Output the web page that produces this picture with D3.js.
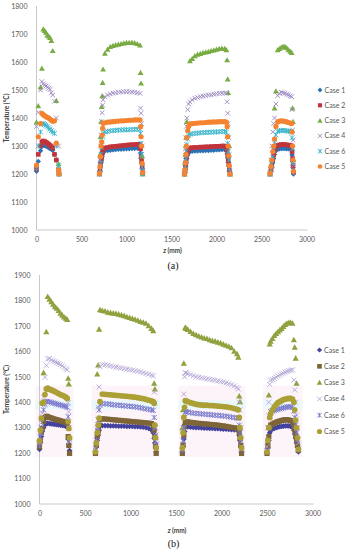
<!DOCTYPE html>
<html><head><meta charset="utf-8">
<script src="https://cdn.jsdelivr.net/npm/d3@7"></script>
<style>body{margin:0;background:#fff}svg{display:block}</style>
</head><body>
<svg id="c" width="348" height="550"></svg>
<script>
// ---------- shared labels ----------
const cases = ["Case 1","Case 2","Case 3","Case 4","Case 6","Case 5"];
const xTicks = [0,500,1000,1500,2000,2500,3000];
const yTicksA = [1000,1100,1200,1300,1400,1500,1600,1700,1800];
const yTicksB = [1000,1100,1200,1300,1400,1500,1600,1700,1800,1900];

// ---------- chart (a): z positions per heated segment ----------
const zA = [
  [0,20,45,60,75,90,105,120,135,150,165,180,200,220,245,250],
  [700,706,712,718,724,730,735,740,760,790,820,850,880,910,940,970,1000,1030,1060,1090,1120,1150,1156,1162,1168,1174,1180],
  [1645,1650,1655,1660,1665,1670,1680,1690,1705,1730,1760,1790,1820,1850,1880,1910,1940,1970,2000,2030,2060,2090,2110,2118,2124,2130,2136,2142,2150],
  [2595,2605,2615,2625,2635,2645,2660,2680,2700,2720,2740,2760,2780,2800,2820,2835,2840,2845,2850,2855]
];
const aCase1 = [
  [1210,1245,1283,1298,1304,1302,1300,1297,1294,1291,1288,1285,1270,1250,1210,1200],
  [1200,1210,1225,1240,1250,1262,1272,1280,1282,1284,1285,1286,1287,1288,1288,1289,1290,1290,1291,1291,1292,1292,1275,1255,1240,1220,1200],
  [1200,1205,1215,1228,1240,1255,1268,1276,1280,1281,1282,1282,1283,1283,1284,1284,1285,1285,1286,1286,1287,1287,1285,1272,1258,1242,1228,1210,1200],
  [1200,1210,1222,1240,1255,1270,1283,1288,1290,1291,1291,1291,1290,1290,1289,1287,1268,1245,1222,1200]
];
const aCase2 = [
  [1218,1270,1300,1315,1318,1316,1313,1310,1306,1302,1298,1293,1270,1250,1215,1200],
  [1200,1215,1235,1250,1262,1274,1285,1290,1293,1295,1297,1298,1299,1300,1301,1302,1303,1304,1305,1305,1306,1306,1290,1262,1245,1226,1205],
  [1200,1210,1225,1240,1255,1270,1282,1290,1293,1294,1295,1295,1296,1296,1297,1297,1298,1298,1299,1299,1300,1300,1298,1285,1268,1250,1235,1215,1200],
  [1200,1215,1230,1250,1268,1285,1298,1302,1304,1305,1305,1305,1304,1303,1302,1300,1280,1255,1230,1205]
];
const aCase3 = [
  [1385,1443,1510,1577,1717,1712,1706,1696,1692,1687,1676,1640,null,1462,1236,1200],
  [1202,1270,1333,1387,1440,1479,1526,1574,1631,1645,1655,1658,1661,1663,1665,1667,1669,1669,1670,1668,1665,1660,1562,1524,null,1264,1200],
  [1200,1240,1270,1300,1331,1387,null,null,1604,1612,1622,1627,1630,1633,1635,1637,1640,1642,1645,1648,1649,1648,1643,1607,1539,1490,null,1300,1200],
  [1200,1230,null,null,null,1435,1496,1643,1648,1652,1655,1655,1650,1643,1638,1633,null,1435,1387,1250]
];
const aCase4 = [
  [1370,1420,1500,1530,1522,1518,1514,1510,1506,1502,1490,1482,1460,1400,1300,1210],
  [1205,1250,1300,1340,1387,1419,1446,1465,1476,1482,1486,1489,1490,1492,1493,1494,1494,1494,1493,1492,1490,1488,1435,1417,1380,1300,1210],
  [1205,1250,1290,1330,1370,1400,1430,1450,1458,1465,1470,1473,1476,1478,1480,1482,1483,1485,1487,1488,1489,1489,1488,1458,1417,1380,1330,1270,1210],
  [1205,1250,1300,1350,1380,1400,1450,1480,1488,1492,1490,1488,1485,1482,1479,1476,1430,1357,1321,1230]
];
const aCase6 = [
  [1220,1300,1350,1378,1380,1377,1374,1370,1365,1360,1355,1350,1345,1300,1230,1205],
  [1200,1215,1240,1270,1295,1315,1335,1345,1350,1352,1354,1355,1356,1357,1357,1358,1358,1358,1359,1359,1360,1360,1345,1310,1270,1225,1200],
  [1200,1212,1230,1255,1280,1305,1325,1338,1342,1344,1345,1346,1347,1348,1348,1349,1349,1350,1350,1351,1352,1352,1350,1335,1310,1280,1250,1220,1200],
  [1200,1215,1235,1260,1285,1310,1340,1352,1355,1356,1356,1355,1354,1353,1352,1350,1330,1290,1240,1205]
];
const aCase5 = [
  [1232,1333,1380,1417,1412,1408,1405,1402,1400,1396,1392,1388,1390,1310,1214,1202],
  [1202,1226,1262,1300,1315,1339,1363,1381,1383,1385,1386,1387,1388,1389,1390,1390,1391,1392,1392,1393,1393,1393,1369,1333,1300,1238,1205],
  [1200,1215,1240,1270,1300,1330,1355,1370,1379,1380,1381,1382,1383,1383,1384,1385,1385,1386,1386,1387,1387,1387,1385,1369,1333,1300,1265,1230,1200],
  [1203,1226,1250,1280,1300,1325,1370,1386,1389,1390,1389,1388,1386,1384,1382,1380,1350,1300,1250,1210]
];

// ---------- chart (b) ----------
const zB = [
  [0,10,20,30,45,60,75,90,110,130,150,170,190,210,230,250,270,290,305,315,322,330],
  [615,625,635,645,655,665,690,720,750,780,810,840,870,900,930,960,990,1020,1050,1080,1110,1140,1170,1200,1230,1250,1260,1268,1275,1282],
  [1570,1578,1586,1594,1602,1610,1630,1660,1690,1720,1750,1780,1810,1840,1870,1900,1930,1960,1990,2020,2050,2080,2110,2140,2170,2185,2195,2203,2211,2220],
  [2500,2510,2520,2530,2540,2560,2580,2600,2620,2640,2660,2680,2700,2720,2740,2760,2780,2795,2805,2815,2825,2835,2845]
];
const bCase1 = [
  [1215,1241,1265,1285,1300,1312,1316,1317,1316,1315,1314,1313,1312,1311,1310,1309,1308,1306,1300,1255,1235,1210],
  [1205,1225,1250,1270,1290,1305,1308,1308,1308,1307,1307,1307,1306,1306,1306,1305,1305,1305,1304,1304,1303,1302,1300,1297,1291,1280,1258,1240,1220,1205],
  [1205,1225,1255,1285,1304,1304,1303,1302,1301,1300,1300,1299,1298,1298,1297,1297,1296,1296,1295,1294,1294,1293,1292,1291,1291,1288,1270,1250,1225,1205],
  [1200,1220,1250,1280,1291,1294,1297,1300,1302,1304,1305,1306,1307,1307,1307,1305,1302,1290,1275,1258,1240,1225,1205]
];
const bCase2 = [
  [1225,1250,1280,1297,1325,1340,1345,1343,1340,1338,1335,1333,1331,1329,1327,1325,1323,1320,1318,1265,1230,1199],
  [1199,1230,1265,1284,1310,1333,1335,1334,1333,1332,1331,1330,1329,1328,1327,1326,1325,1324,1323,1322,1321,1320,1319,1318,1316,1310,1290,1265,1230,1199],
  [1199,1232,1270,1305,1324,1324,1323,1321,1320,1318,1317,1316,1315,1314,1313,1312,1311,1310,1308,1307,1305,1303,1301,1299,1298,1297,1280,1258,1230,1199],
  [1199,1230,1265,1300,1310,1314,1318,1321,1324,1326,1328,1330,1331,1331,1330,1328,1324,1310,1290,1270,1252,1230,1211]
];
const bCase3 = [
  [null,null,null,null,1516,null,1677,1815,1805,1795,1785,1775,1769,1760,1750,1742,1735,1730,1725,1494,1472,null],
  [null,null,1511,1546,1687,1763,1760,1758,1754,1752,1750,1749,1746,1743,1740,1736,1733,1729,1726,1722,1717,1714,1710,1700,1690,1681,1474,1452,null,null],
  [1300,1370,1553,null,1694,1690,1686,1678,1670,1665,1660,1656,1652,1650,1645,1642,1640,1636,1633,1628,1624,1620,1614,1600,1590,1577,1424,1402,null,null],
  [null,null,1428,1629,1640,1650,1662,1670,1677,1684,1690,1698,1705,1710,1713,1713,1710,1645,1616,1573,1474,null,null]
];
const bCase4 = [
  [1240,1278,1320,1357,1420,1498,1545,1570,1572,1566,1562,1559,1555,1552,1548,1543,1537,1531,1527,1398,1363,1245],
  [1220,1241,1300,1380,1460,1540,1548,1547,1545,1543,1540,1538,1536,1534,1532,1530,1528,1526,1524,1522,1519,1516,1513,1510,1507,1503,1440,1396,1300,1245],
  [1225,1300,1432,1500,1516,1515,1512,1508,1504,1500,1498,1496,1494,1492,1490,1488,1486,1484,1481,1479,1476,1473,1469,1464,1458,1452,1400,1370,1300,1225],
  [1225,1300,1400,1470,1487,1490,1494,1498,1503,1507,1511,1514,1518,1521,1524,1526,1527,1487,1448,1400,1350,1300,1240]
];
const bCase6 = [
  [1230,1265,1300,1335,1370,1392,1402,1403,1401,1399,1397,1395,1393,1391,1389,1387,1385,1383,1380,1343,1300,1255],
  [1210,1250,1290,1330,1370,1390,1395,1394,1393,1392,1390,1389,1388,1387,1386,1385,1384,1383,1382,1380,1378,1376,1374,1372,1370,1368,1340,1300,1270,1235],
  [1210,1250,1300,1340,1363,1362,1361,1359,1357,1356,1355,1354,1353,1352,1351,1350,1349,1348,1347,1346,1345,1343,1341,1340,1338,1337,1310,1280,1250,1215],
  [1210,1250,1300,1345,1363,1365,1368,1370,1372,1374,1376,1378,1380,1381,1382,1382,1380,1365,1340,1310,1280,1250,1215]
];
const bCase5 = [
  [1248,1290,1337,1396,1400,1430,1452,1455,1451,1448,1445,1442,1438,1434,1430,1427,1424,1420,1415,1324,1297,1260],
  [1205,1240,1280,1310,1337,1402,1432,1431,1430,1429,1428,1427,1426,1425,1424,1423,1422,1421,1420,1418,1416,1414,1411,1408,1405,1402,1396,1310,1260,1220],
  [1220,1280,1340,1380,1406,1405,1402,1398,1395,1392,1390,1389,1388,1388,1387,1387,1386,1385,1384,1383,1382,1380,1378,1375,1372,1370,1340,1300,1260,1220],
  [1205,1250,1300,1340,1355,1370,1382,1390,1398,1402,1406,1410,1412,1414,1415,1415,1412,1400,1370,1330,1300,1260,1215]
];

// ---------- drawing ----------
const svg = d3.select("#c");
const FONT = "Lato, 'Open Sans', sans-serif";
const shapes = ["diamond","square","triangle","x","star","circle"];

function markerPath(shape, r){
  const p = d3.path();
  if(shape==="diamond"){p.moveTo(0,-r);p.lineTo(r,0);p.lineTo(0,r);p.lineTo(-r,0);p.closePath();}
  else if(shape==="square"){p.rect(-r,-r,2*r,2*r);}
  else if(shape==="triangle"){p.moveTo(0,-r);p.lineTo(r*1.0,r*0.8);p.lineTo(-r*1.0,r*0.8);p.closePath();}
  else if(shape==="circle"){p.arc(0,0,r,0,2*Math.PI);}
  else if(shape==="x"){p.moveTo(-r,-r);p.lineTo(r,r);p.moveTo(-r,r);p.lineTo(r,-r);}
  else if(shape==="star"){p.moveTo(-r,-r);p.lineTo(r,r);p.moveTo(-r,r);p.lineTo(r,-r);p.moveTo(0,-r);p.lineTo(0,r);}
  return p.toString();
}
const stroked = s => s==="x"||s==="star";

function drawChart(cfg){
  const g = svg.append("g");
  const x = d3.scaleLinear().domain([0,3000]).range([cfg.x0,cfg.x1]);
  const y = d3.scaleLinear().domain([1000,cfg.ymax]).range([cfg.y0,cfg.y1]);

  if(cfg.bands){
    cfg.z.forEach(seg=>{
      const a=x(seg[0])-4, b=x(seg[seg.length-1])+4;
      g.append("rect").attr("x",a).attr("width",b-a).attr("y",y(1465)).attr("height",y(1185)-y(1465)).attr("fill","#fdf4f9");
      g.append("rect").attr("x",a).attr("width",b-a).attr("y",y(1408)).attr("height",y(1372)-y(1408)).attr("fill","#eaf8fb");
    });
  }

  g.append("line").attr("x1",cfg.x0).attr("x2",cfg.x0).attr("y1",y(cfg.ymax)).attr("y2",cfg.y0).attr("stroke","#c9c9c9").attr("stroke-width",1);
  g.append("line").attr("x1",cfg.x0).attr("x2",cfg.x1+1).attr("y1",cfg.y0).attr("y2",cfg.y0).attr("stroke","#c9c9c9").attr("stroke-width",1);

  const yAxis = d3.axisLeft(y).tickValues(cfg.yTicks).tickSize(0).tickPadding(cfg.ypad).tickFormat(d3.format("d"));
  const ya = g.append("g").attr("transform",`translate(${cfg.x0},0)`).call(yAxis);
  const xAxis = d3.axisBottom(x).tickValues(xTicks).tickSize(0).tickPadding(7).tickFormat(d3.format("d"));
  const xa = g.append("g").attr("transform",`translate(0,${cfg.y0})`).call(xAxis);
  [ya,xa].forEach(a=>{a.select(".domain").remove();a.selectAll("text").attr("font-family",FONT).attr("font-size",7).attr("fill","#595959");});

  cfg.series.forEach((vals,i)=>{
    const pts=[];
    cfg.z.forEach((seg,s)=>seg.forEach((zv,j)=>{const t=vals[s][j]; if(t!=null) pts.push([zv,t]);}));
    const sh = shapes[i];
    g.append("g").selectAll("path").data(pts).join("path")
      .attr("transform",d=>`translate(${x(d[0])},${y(d[1])})`)
      .attr("d",markerPath(sh,cfg.r[i]))
      .attr("fill",stroked(sh)?"none":cfg.colors[i])
      .attr("stroke",stroked(sh)?cfg.colors[i]:"none")
      .attr("stroke-width",stroked(sh)?0.9:0);
  });

  cases.forEach((c,i)=>{
    const ly = cfg.legY + i*cfg.legDy;
    const sh = shapes[i];
    g.append("path").attr("transform",`translate(${cfg.legX},${ly})`).attr("d",markerPath(sh,cfg.r[i]*0.9))
      .attr("fill",stroked(sh)?"none":cfg.colors[i]).attr("stroke",stroked(sh)?cfg.colors[i]:"none").attr("stroke-width",0.9);
    g.append("text").attr("x",cfg.legX+4.5).attr("y",ly+2.5).text(c).attr("font-family",FONT).attr("font-size",7).attr("fill","#595959");
  });

  g.append("text").attr("transform",`translate(${cfg.ytX},${(cfg.y0+y(cfg.ymax))/2}) rotate(-90)`).attr("text-anchor","middle")
    .attr("font-family",FONT).attr("font-size",6.5).attr("font-weight","bold").attr("fill","#404040").text("Temperature (°C)");
  const xt = g.append("text").attr("x",cfg.xtX).attr("y",cfg.xtY).attr("text-anchor","middle")
    .attr("font-family",FONT).attr("font-size",6.5).attr("font-weight","bold").attr("fill","#404040");
  xt.append("tspan").attr("font-style","italic").text("z");
  xt.append("tspan").text(" (mm)");
  g.append("text").attr("x",cfg.capX).attr("y",cfg.capY).attr("text-anchor","middle")
    .attr("font-family","'Liberation Serif', serif").attr("font-size",10).attr("fill","#111").text(cfg.cap);
}

drawChart({
  x0:36.5, x1:306.5, y0:230, y1:6, ymax:1800, yTicks:yTicksA, ypad:9,
  z:zA, series:[aCase1,aCase2,aCase3,aCase4,aCase6,aCase5],
  colors:["#2a73b5","#c2343c","#78ac43","#9a86bf","#33b3cc","#f5832f"],
  r:[2.7,2.3,2.9,2.3,2.4,2.6],
  legX:320, legY:90, legDy:15.3,
  ytX:8.5, xtX:172.5, xtY:253, capX:173, capY:268.5, cap:"(a)", bands:false
});
drawChart({
  x0:39.5, x1:312.5, y0:504, y1:275, ymax:1900, yTicks:yTicksB, ypad:9,
  z:zB, series:[bCase1,bCase2,bCase3,bCase4,bCase6,bCase5],
  colors:["#43439e","#7d6538","#8ea23f","#b4a6d6","#7777cc","#aba036"],
  r:[2.9,2.6,3.1,2.5,2.6,2.9],
  legX:319.5, legY:350, legDy:16.3,
  ytX:9, xtX:177, xtY:532.5, capX:173.5, capY:547, cap:"(b)", bands:true
});
</script>
</body></html>
